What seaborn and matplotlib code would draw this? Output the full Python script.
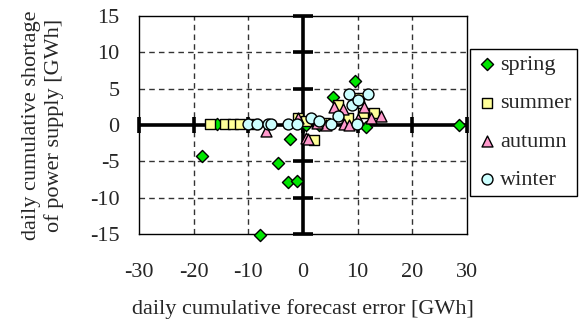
import matplotlib
matplotlib.use("Agg")
import matplotlib.pyplot as plt
import seaborn as sns
import pandas as pd
import numpy as np

# values (x: forecast error, y: shortage, GWh)
spring_x = [-18.5, -15.7, -4.6, -2.7, -1.1, -7.9, -2.4, 9.5, 5.5, 11.5, 28.5, 0.5, 3.0, 8.0]
spring_y = [-4.2, 0.2, -5.2, -7.9, -7.7, -15.1, -1.9, 6.0, 3.8, -0.3, 0.0, 0.0, 0.0, 0.3]
summer_x = [-17.0, -14.3, -12.8, -11.5, -9.0, -1.0, 2.0, 6.4, 10.3, 13.0, 11.0, 8.2, 4.0, 0.5]
summer_y = [0.2, 0.2, 0.2, 0.2, 0.1, 1.0, -2.0, 2.7, 3.7, 1.7, 1.6, 1.0, 0.3, 0.5]
autumn_x = [-6.8, 0.5, 0.9, 5.7, 7.3, 11.2, 14.3, 12.4, 7.5, 8.4, 4.2, -1.0, 2.5, 10.0]
autumn_y = [-0.8, -1.8, -1.9, 2.5, 2.2, 2.5, 1.3, 0.9, 0.2, 0.0, 0.0, 0.9, 0.3, 0.8]
winter_x = [-10.1, -8.4, -6.4, -5.9, -2.7, -1.1, 1.5, 2.9, 5.1, 6.4, 8.4, 11.8, 9.0, 9.9, 10.0]
winter_y = [0.2, 0.2, 0.2, 0.2, 0.2, 0.2, 0.9, 0.6, 0.2, 1.2, 4.3, 4.3, 2.7, 0.2, 3.4]

seasons = ["spring", "summer", "autumn", "winter"]
colors = {"spring": "#00E600", "summer": "#FFFF99", "autumn": "#FF99CC", "winter": "#CCFFFF"}
markers = {"spring": "D", "summer": "s", "autumn": "^", "winter": "o"}
sizes = {"spring": 38, "summer": 48, "autumn": 62, "winter": 62}

xticks = [-30, -20, -10, 0, 10, 20, 30]
yticks = [-15, -10, -5, 0, 5, 10, 15]

df = pd.concat([
    pd.DataFrame({"x": spring_x, "y": spring_y, "season": "spring"}),
    pd.DataFrame({"x": summer_x, "y": summer_y, "season": "summer"}),
    pd.DataFrame({"x": autumn_x, "y": autumn_y, "season": "autumn"}),
    pd.DataFrame({"x": winter_x, "y": winter_y, "season": "winter"}),
], ignore_index=True)

sns.set_style("white")
plt.rcParams["font.family"] = ["Liberation Serif", "DejaVu Serif"]
plt.rcParams["axes.unicode_minus"] = False
fs = 16

fig = plt.figure(figsize=(5.86, 3.2), dpi=100)
ax = fig.add_axes([139 / 586, 1 - 234 / 320, 328 / 586, 218 / 320])

# dashed grid
for v in xticks[1:-1]:
    if v != 0:
        ax.axvline(v, color="#333333", lw=1, dashes=(4, 3), zorder=0)
for v in yticks[1:-1]:
    if v != 0:
        ax.axhline(v, color="#333333", lw=1, dashes=(4, 3), zorder=0)

# thick axes through the origin with cross ticks
ax.axvline(0, color="black", lw=2.6, zorder=1)
ax.axhline(0, color="black", lw=2.6, zorder=1)
ax.plot(np.zeros(len(yticks)), yticks, ls="none", marker="_", ms=14, mew=2.6,
        color="black", clip_on=False, zorder=1)
ax.plot(xticks, np.zeros(len(xticks)), ls="none", marker="|", ms=12, mew=2.6,
        color="black", clip_on=False, zorder=1)

for s in seasons:
    sub = df[df["season"] == s]
    sns.scatterplot(data=sub, x="x", y="y", ax=ax, marker=markers[s], color=colors[s],
                    s=sizes[s], edgecolor="black", linewidth=1, label=s, zorder=3,
                    clip_on=False)

ax.set_xlim(-30, 30)
ax.set_ylim(-15, 15)
ax.set_xticks(xticks)
ax.set_yticks(yticks)
ax.tick_params(length=0, labelsize=fs)
ax.tick_params(axis="x", pad=21)
ax.tick_params(axis="y", pad=14)
for sp in ax.spines.values():
    sp.set_color("black")
    sp.set_linewidth(1)
ax.set_xlabel("daily cumulative forecast error [GWh]", fontsize=fs, labelpad=12)
ax.set_ylabel("daily cumulative shortage\nof power supply [GWh]", fontsize=fs,
              labelpad=19, linespacing=1.15)

leg = ax.legend(loc="upper left", bbox_to_anchor=(470 / 586, 1 - 49 / 320),
                bbox_transform=fig.transFigure, fontsize=fs, frameon=True,
                fancybox=False, edgecolor="black", framealpha=1,
                labelspacing=0.8, handletextpad=0.1, borderpad=0.25,
                handlelength=1.0, borderaxespad=0)
leg.get_frame().set_linewidth(1)

fig.savefig("out.png", dpi=100)
